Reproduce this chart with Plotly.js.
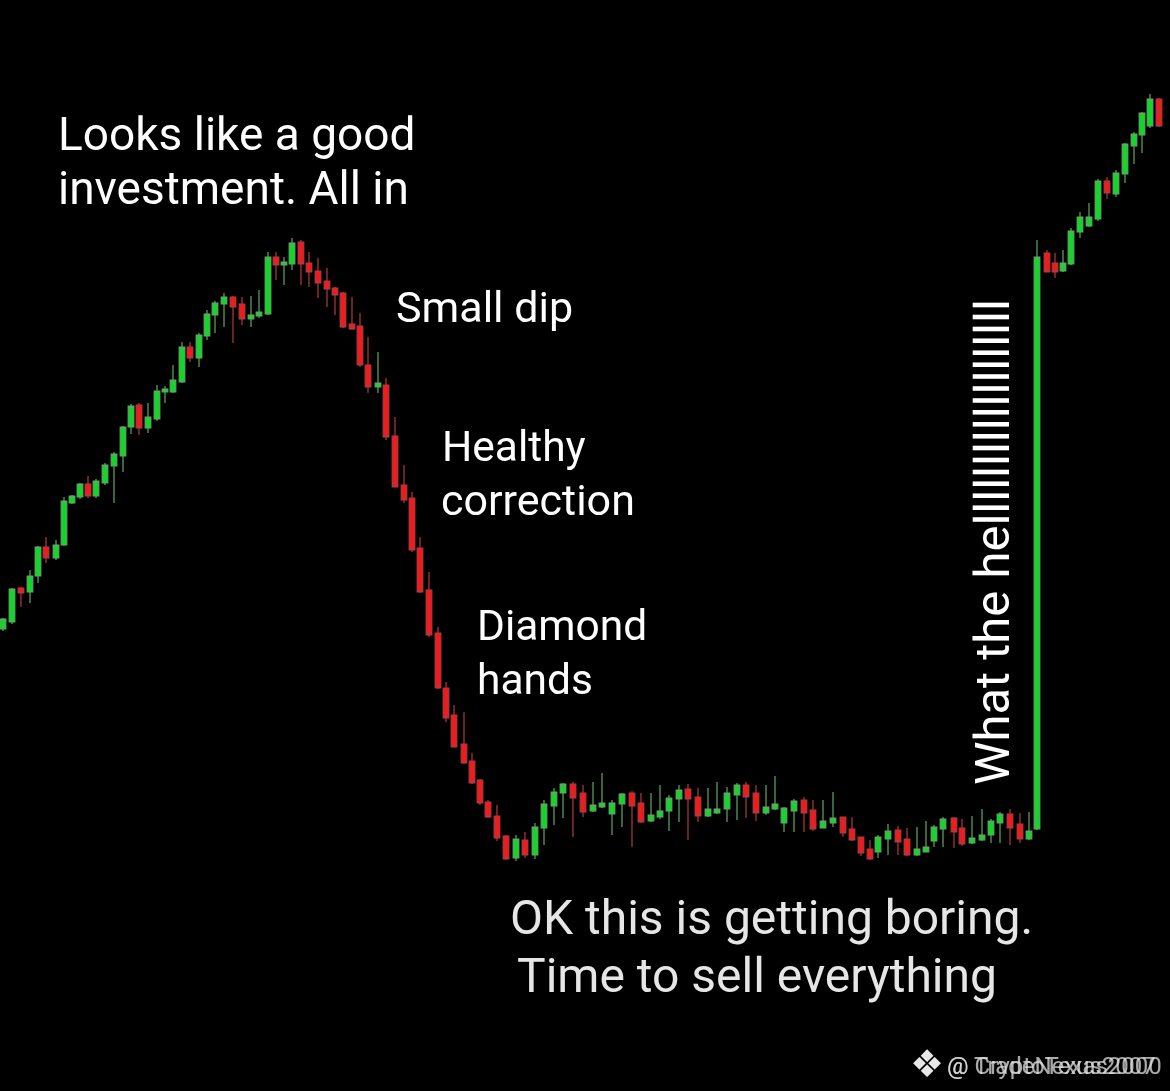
<!DOCTYPE html>
<html><head><meta charset="utf-8">
<script src="https://cdn.plot.ly/plotly-3.0.1.min.js"></script>
<style>html,body{margin:0;padding:0;background:#000}#c{width:1170px;height:1091px;filter:blur(0.5px)}</style>
</head><body><div id="c"></div>
<script>
// Price scale: price = 1000 - (height)
const xPos = [3,12,21,30,38,46,56,64,72,80,88,96,105,114,123,131,139,148,157,165,173,182,190,199,207,215,224,233,242,251,259,268,276,284,292,301,309,318,327,335,343,352,360,368,378,386,395,404,412,420,429,438,446,454,464,472,480,488,497,506,516,525,535,544,554,563,573,583,593,602,612,622,632,641,651,660,669,679,688,698,708,717,727,737,746,756,766,775,784,794,804,813,823,833,843,852,861,870,878,888,898,907,917,926,934,943,954,962,972,982,991,1000,1010,1020,1029,1037,1047,1055,1063,1071,1080,1089,1098,1107,1116,1125,1134,1142,1150,1159];
const openY = [629,622,588,592,576,547,558,545,503,497,484,496,483,466,456,427,405,428,419,392,392,382,347,358,336,315,304,297,304,319,316,314,257,265,264,242,263,271,281,288,293,324,326,365,387,385,436,485,498,548,590,633,688,715,744,761,780,802,816,836,858,840,855,828,806,793,784,793,811,807,814,804,793,803,821,817,811,799,789,797,816,813,809,795,785,793,813,809,823,811,800,810,828,823,817,829,837,849,852,839,830,839,855,852,841,829,818,828,843,840,835,823,814,824,839,829,253,263,271,264,232,226,219,181,194,174,146,135,126,99];
const closeY = [619,589,593,576,547,558,545,501,496,484,496,481,465,454,427,406,428,417,391,389,380,347,358,335,314,303,297,307,319,315,312,257,265,262,243,264,272,283,289,295,327,329,365,387,383,437,487,500,550,592,635,688,718,747,763,783,803,817,838,859,839,855,827,804,792,784,798,812,805,803,803,794,806,822,815,811,798,790,799,816,809,809,793,785,797,813,807,804,808,801,813,829,821,818,833,840,853,859,837,831,842,855,849,847,827,819,832,844,838,835,821,814,828,839,831,257,272,272,263,231,217,217,181,193,173,144,134,113,99,126];
const highY = [618,588,587,570,546,537,540,497,495,483,476,479,463,452,426,404,403,403,385,386,365,342,342,333,310,301,293,296,297,296,290,252,252,257,238,240,252,258,268,287,292,297,313,337,352,378,417,465,492,537,572,627,682,705,712,753,779,800,805,835,835,832,823,800,788,783,782,785,782,773,800,793,791,793,793,785,795,785,784,788,788,782,787,783,782,785,785,776,807,799,797,800,800,792,817,817,837,840,835,824,826,828,827,821,825,817,817,819,816,809,819,812,809,813,812,240,250,253,250,228,212,203,179,177,170,143,132,112,94,98];
const lowY = [631,624,607,603,583,563,560,546,504,499,498,498,485,503,472,434,435,433,421,403,393,383,362,367,340,333,327,343,325,327,318,315,280,285,270,285,287,298,307,315,328,330,367,393,393,440,487,503,552,593,637,689,722,747,764,784,805,818,841,860,861,858,859,845,825,818,837,817,812,808,835,827,847,823,822,819,831,822,840,822,817,814,822,820,818,821,815,810,832,832,832,831,828,827,837,841,856,860,858,855,855,856,856,852,847,847,848,846,844,841,843,843,845,843,840,830,272,278,272,265,238,227,221,199,197,183,164,153,128,127];

// Visible text
const lines = [
  ["Looks like a good", 56, 134, 46, "#ffffff"],
  ["investment. All in", 56, 188, 46, "#ffffff"],
  ["Small dip", 394, 307, 43, "#ffffff"],
  ["Healthy", 440, 446, 42.5, "#ffffff"],
  ["correction", 439, 500, 43, "#ffffff"],
  ["Diamond", 475, 625, 42.5, "#ffffff"],
  ["hands", 475, 679, 42.5, "#ffffff"],
  ["OK this is getting boring.", 508, 917, 48, "#e6e6e6"],
  ["Time to sell everything", 515, 975, 48, "#e6e6e6"]
];
const shoutText = "What the he" + "l".repeat(19);
const mark = "\u2756";
const wmA = "@ TradeNexus2007", wmB = "@ CryptoTexas2000";

const p = a => a.map(v => 1000 - v);
const trace = {
  type: "candlestick", x: xPos,
  open: p(openY), high: p(highY), low: p(lowY), close: p(closeY),
  increasing: {line: {color: "#5fa862", width: 1.2}, fillcolor: "#12d62a"},
  decreasing: {line: {color: "#b03a3f", width: 1.2}, fillcolor: "#ee1c1c"},
  whiskerwidth: 0, hoverinfo: "skip"
};
const ann = lines.map(l => ({
  text: l[0], x: l[1], y: 1000 - l[2], xref: "x", yref: "y", xanchor: "left", yanchor: "middle",
  showarrow: false, font: {family: "Roboto", size: l[3], color: l[4]}
}));
ann.push({text: shoutText, x: 992, y: 1000 - 787, xref: "x", yref: "y", textangle: -90,
  xanchor: "center", yanchor: "bottom", showarrow: false,
  font: {family: "Roboto", size: 49, color: "#ffffff"}});
ann.push({text: mark, x: 927, y: 1000 - 1064, xref: "x", yref: "y", xanchor: "center", yanchor: "middle",
  showarrow: false, font: {family: "DejaVu Sans", size: 38, color: "#e8e8e8"}});
[wmA, wmB].forEach(t => ann.push({text: t, x: 945, y: 1000 - 1066, xref: "x", yref: "y", xanchor: "left", yanchor: "middle",
  showarrow: false, font: {family: "Roboto", size: 24, color: "rgba(225,225,225,0.75)"}}));

Plotly.newPlot("c", [trace], {
  width: 1170, height: 1091, margin: {l: 0, r: 0, t: 0, b: 0},
  paper_bgcolor: "#000", plot_bgcolor: "#000", showlegend: false, boxgap: 0,
  xaxis: {range: [0, 1170], visible: false, rangeslider: {visible: false}, fixedrange: true},
  yaxis: {range: [-91, 1000], visible: false, fixedrange: true},
  annotations: ann
}, {staticPlot: true});
</script></body></html>
